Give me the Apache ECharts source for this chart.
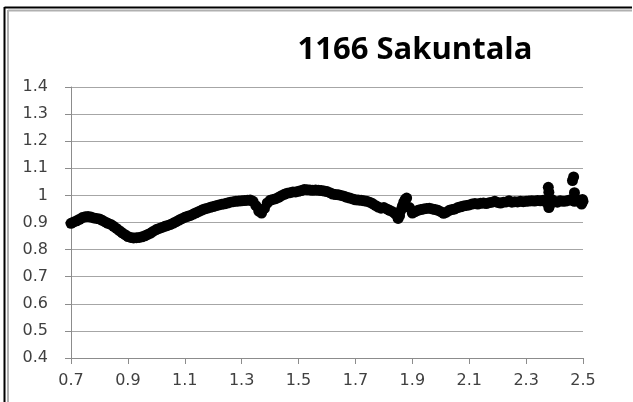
<!DOCTYPE html>
<html>
<head>
<meta charset="utf-8">
<script src="https://cdn.jsdelivr.net/npm/echarts@6/dist/echarts.min.js"></script>
<style>html,body{margin:0;padding:0;background:#fff;}#c{width:633px;height:402px;}</style>
</head>
<body>
<div id="c"></div>
<script>
var titleText = '1166 Sakuntala';
var xTicks = [0.7, 0.9, 1.1, 1.3, 1.5, 1.7, 1.9, 2.1, 2.3, 2.5];
var yTicks = [0.4, 0.5, 0.6, 0.7, 0.8, 0.9, 1.0, 1.1, 1.2, 1.3, 1.4];
var wavelength = [
0.70,0.71,0.72,0.73,0.74,0.75,0.76,0.77,0.78,0.79,
0.80,0.81,0.82,0.83,0.84,0.85,0.86,0.87,0.88,0.89,
0.90,0.91,0.92,0.93,0.94,0.95,0.96,0.97,0.98,0.99,
1.00,1.01,1.02,1.03,1.04,1.05,1.06,1.07,1.08,1.09,
1.10,1.11,1.12,1.13,1.14,1.15,1.16,1.17,1.18,1.19,
1.20,1.21,1.22,1.23,1.24,1.25,1.26,1.27,1.28,1.29,
1.30,1.31,1.32,1.33,1.34,1.35,1.36,1.37,1.38,1.39,
1.40,1.41,1.42,1.43,1.44,1.45,1.46,1.47,1.48,1.49,
1.50,1.51,1.52,1.53,1.54,1.55,1.56,1.57,1.58,1.59,
1.60,1.61,1.62,1.63,1.64,1.65,1.66,1.67,1.68,1.69,
1.70,1.71,1.72,1.73,1.74,1.75,1.76,1.77,1.78,1.79,
1.80,1.81,1.82,1.83,1.84,1.85,1.86,1.87,1.88,1.89,
1.90,1.91,1.92,1.93,1.94,1.95,1.96,1.97,1.98,1.99,
2.00,2.01,2.02,2.03,2.04,2.05,2.06,2.07,2.08,2.09,
2.10,2.11,2.12,2.13,2.14,2.15,2.16,2.17,2.18,2.19,
2.20,2.21,2.22,2.23,2.24,2.25,2.26,2.27,2.28,2.29,
2.30,2.31,2.32,2.33,2.34,2.35,2.36,2.37,2.38,2.39,
2.40,2.41,2.42,2.43,2.44,2.45,2.46,2.47,2.48,2.49,
2.50
];
var reflectance = [
0.897,0.902,0.906,0.912,0.918,0.921,0.922,0.920,0.917,0.915,
0.913,0.908,0.902,0.897,0.893,0.886,0.878,0.870,0.862,0.855,
0.848,0.845,0.843,0.844,0.845,0.847,0.851,0.856,0.861,0.868,
0.874,0.878,0.882,0.886,0.889,0.893,0.898,0.903,0.909,0.914,
0.919,0.923,0.926,0.931,0.936,0.941,0.946,0.950,0.953,0.956,
0.959,0.962,0.965,0.967,0.969,0.972,0.975,0.977,0.978,0.979,
0.980,0.981,0.982,0.983,0.978,0.962,0.942,0.935,0.952,0.972,
0.982,0.985,0.988,0.993,0.999,1.004,1.008,1.010,1.013,1.013,
1.015,1.018,1.022,1.021,1.020,1.019,1.020,1.019,1.018,1.016,
1.014,1.010,1.005,1.003,1.002,1.000,0.997,0.993,0.990,0.987,
0.984,0.983,0.982,0.980,0.978,0.975,0.970,0.963,0.957,0.953,
0.955,0.950,0.945,0.940,0.932,0.915,0.945,0.975,0.990,0.955,
0.935,0.940,0.945,0.948,0.950,0.952,0.953,0.950,0.948,0.945,
0.940,0.934,0.938,0.945,0.948,0.950,0.955,0.958,0.961,0.963,
0.965,0.968,0.970,0.968,0.971,0.972,0.970,0.973,0.975,0.978,
0.974,0.972,0.975,0.976,0.980,0.975,0.977,0.976,0.978,0.977,
0.978,0.979,0.980,0.979,0.981,0.980,0.982,0.975,0.955,0.985,
0.978,0.975,0.980,0.978,0.979,0.982,0.985,0.978,0.982,0.975,
0.978
];
var extraX = [1.855, 1.865, 1.875, 2.378, 2.380, 2.382, 2.463, 2.467, 2.470, 2.495, 2.498];
var extraY = [0.925, 0.960, 0.985, 1.030, 1.012, 0.962, 1.055, 1.068, 1.010, 0.968, 0.985];

var mainData = wavelength.map(function (x, i) { return [x, reflectance[i]]; });
var extraData = extraX.map(function (x, i) { return [x, extraY[i]]; });

var chart = echarts.init(document.getElementById('c'), null, { renderer: 'canvas' });
var labelFont = '"DejaVu Sans", sans-serif';
var fmt = function (v) { return String(Math.round(v * 10) / 10); };
chart.setOption({
  animation: false,
  backgroundColor: '#ffffff',
  title: {
    text: titleText,
    left: 410, top: 30, textAlign: 'center',
    textStyle: { fontFamily: '"Open Sans", sans-serif', fontWeight: 'bold', fontSize: 31, color: '#000' }
  },
  grid: { left: 71, right: 50, top: 87, bottom: 44 },
  xAxis: {
    type: 'value', min: 0.7, max: 2.5, interval: 0.2,
    axisLine: { show: true, lineStyle: { color: '#8c8c8c', width: 1 } },
    axisTick: { show: true, length: 6, lineStyle: { color: '#8c8c8c' } },
    splitLine: { show: false },
    axisLabel: { margin: 15, color: '#404040', fontSize: 16, fontFamily: labelFont, formatter: fmt }
  },
  yAxis: {
    type: 'value', min: 0.4, max: 1.4, interval: 0.1,
    axisLine: { show: true, lineStyle: { color: '#8c8c8c', width: 1 } },
    axisTick: { show: true, length: 6, lineStyle: { color: '#8c8c8c' } },
    splitLine: { show: true, lineStyle: { color: '#a6a6a6', width: 1 } },
    axisLabel: { margin: 23, color: '#404040', fontSize: 16, fontFamily: labelFont, formatter: fmt }
  },
  series: [
    { type: 'scatter', data: mainData, symbol: 'circle', symbolSize: 11, itemStyle: { color: '#000', opacity: 1 } },
    { type: 'scatter', data: extraData, symbol: 'circle', symbolSize: 11, itemStyle: { color: '#000', opacity: 1 } }
  ],
  graphic: [
    { type: 'line', shape: { x1: 4.5, y1: 7.5, x2: 632, y2: 7.5 }, style: { stroke: '#000', lineWidth: 2 } },
    { type: 'line', shape: { x1: 4.5, y1: 7, x2: 4.5, y2: 402 }, style: { stroke: '#000', lineWidth: 2 } },
    { type: 'line', shape: { x1: 8, y1: 10.5, x2: 632, y2: 10.5 }, style: { stroke: '#b0b0b0', lineWidth: 2 } },
    { type: 'line', shape: { x1: 8, y1: 10, x2: 8, y2: 402 }, style: { stroke: '#b0b0b0', lineWidth: 2 } }
  ]
});
</script>
</body>
</html>
